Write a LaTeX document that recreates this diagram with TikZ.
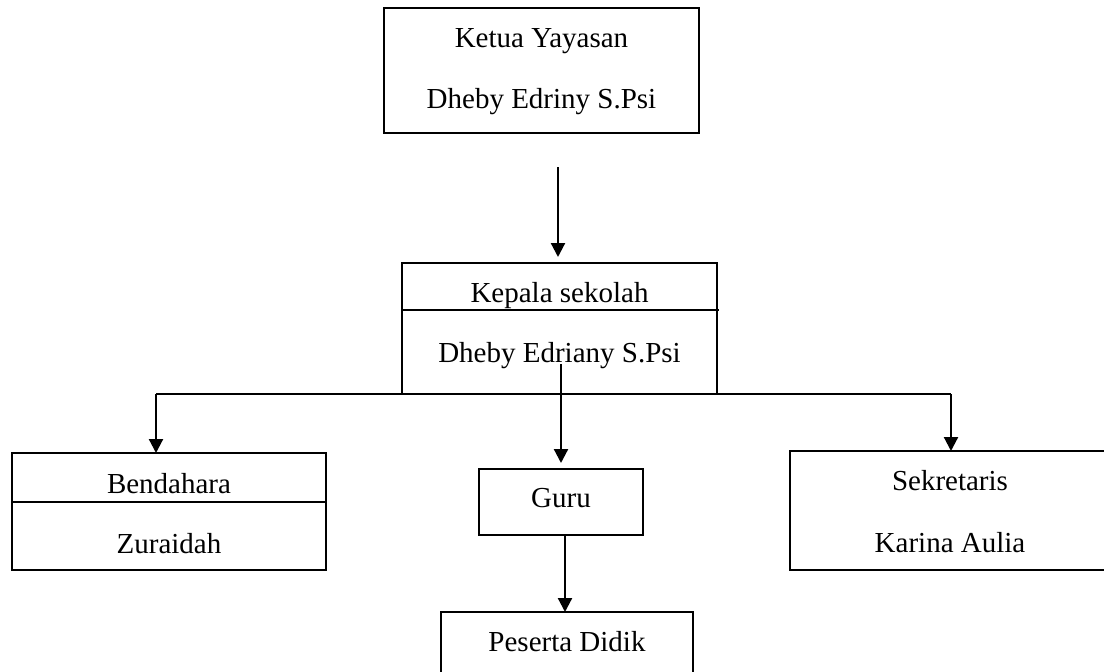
\documentclass[tikz,border=0pt]{standalone}
\usepackage{fontspec}
\setmainfont{Liberation Serif}
\usetikzlibrary{arrows.meta}
\begin{document}
\begin{tikzpicture}[x=1pt,y=-1pt,
  box/.style={draw, line width=1.6pt, rectangle, inner sep=0pt, outer sep=0pt},
  lbl/.style={anchor=base, inner sep=0pt, font=\fontsize{29}{34}\selectfont},
  divider/.style={line width=1.6pt},
  wire/.style={line width=2.2pt},
  conn/.style={line width=2.2pt, -{Triangle[length=14pt,width=14pt]}}]
\useasboundingbox (0,0) rectangle (1104,672);
\clip (0,0) rectangle (1104,672);
% boxes
\node[box, minimum width=315pt, minimum height=125pt] (ketua) at (541.5,70.5) {};
\node[box, minimum width=315pt, minimum height=131pt] (kepala) at (559.5,328.5) {};
\node[box, minimum width=314pt, minimum height=117pt] (bend) at (169,511.5) {};
\node[box, minimum width=164pt, minimum height=66pt] (guru) at (561,502) {};
\node[box, minimum width=320pt, minimum height=119pt] (sek) at (950,510.5) {};
\node[box, minimum width=252pt, minimum height=78pt] (pes) at (567,651) {};
% dividers
\draw[divider] (kepala.west |- 0,310) -- ([xshift=2pt]kepala.east |- 0,310);
\draw[divider] (bend.west |- 0,502) -- (bend.east |- 0,502);
% texts
\node[lbl] (t1) at (541.5,47) {Ketua Yayasan};
\node[lbl] (t2) at (541.5,108) {Dheby Edriny S.Psi};
\node[lbl] (t3) at (559.5,302) {Kepala sekolah};
\node[lbl] (t4) at (559.5,362) {Dheby Edriany S.Psi};
\node[lbl] (t5) at (169,493) {Bendahara};
\node[lbl] (t6) at (169,553) {Zuraidah};
\node[lbl] (t7) at (561,507) {Guru};
\node[lbl] (t8) at (950,490) {Sekretaris};
\node[lbl] (t9) at (950,552) {Karina Aulia};
\node[lbl] (t10) at (567,651) {Peserta Didik};
% connectors
\coordinate (k1) at (558,167);
\coordinate (vs) at (561,364);
\coordinate (hl) at (156,394);
\coordinate (hr) at (951,394);
\draw[conn] (k1) -- ([yshift=6pt]k1 |- kepala.north);
\draw[wire] (hl) -- (hr);
\draw[conn] (vs) -- ([yshift=6pt]vs |- guru.north);
\draw[conn] (hl) -- (hl |- bend.north);
\draw[conn] (hr) -- (hr |- sek.north);
\draw[conn] ([xshift=4pt]guru.south) -- ([xshift=4pt]guru.south |- pes.north);
\end{tikzpicture}
\end{document}
